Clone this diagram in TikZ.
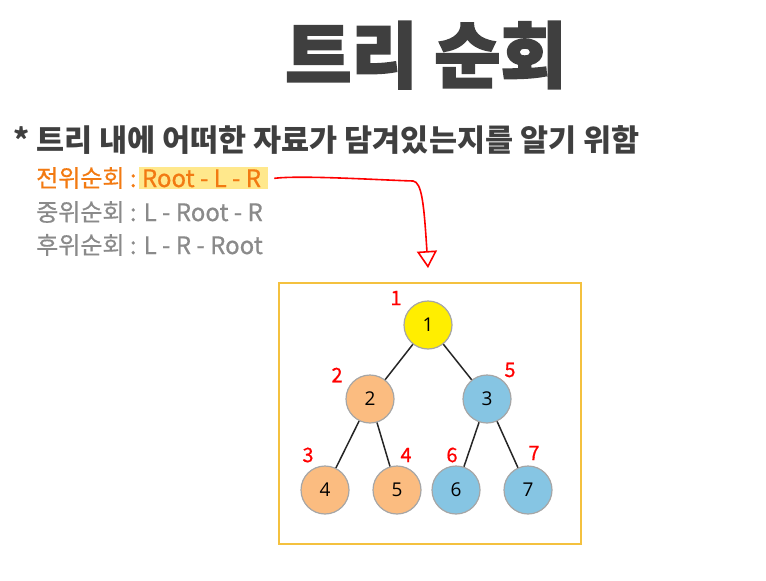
\documentclass[tikz,border=0pt]{standalone}
\usepackage{fontspec}
\setmainfont{Noto Sans CJK KR}
\newfontfamily\heavyfont[FakeBold=2.5]{Noto Sans CJK KR}
\newfontfamily\mediumfont[FakeBold=0.6]{Noto Sans CJK KR}
\newfontfamily\numfont{Open Sans}
\usetikzlibrary{
  arrows.meta,
  positioning
}
\definecolor{titlegray}{HTML}{3F3F3F}
\definecolor{textgray}{HTML}{8A8A8A}
\definecolor{preorange}{HTML}{F27A12}
\definecolor{markyellow}{HTML}{FFE88C}
\definecolor{boxgold}{HTML}{F4C13F}
\definecolor{rootyellow}{HTML}{FFEE00}
\definecolor{leftpeach}{HTML}{FBBC80}
\definecolor{rightblue}{HTML}{86C5E3}
\tikzset{
  x=1pt,
  y=-1pt,
  treenode/.style={
    circle,
    draw=gray!70,
    line width=1.2pt,
    minimum size=48pt,
    inner sep=0pt,
    font=\numfont\fontsize{19}{19}\selectfont
  },
  edge/.style={
    draw=black!85,
    line width=1.5pt
  },
  visit/.style={
    text=red,
    font=\mediumfont\fontsize{20}{20}\selectfont
  },
  order/.style={
    anchor=base west,
    inner sep=0pt,
    font=\mediumfont\fontsize{24}{24}\selectfont
  },
  redpen/.style={
    draw=red,
    line width=1.6pt,
    -{Triangle[open,length=17pt,width=20pt,line width=1.6pt]}
  }
}
\begin{document}
\begin{tikzpicture}
  \useasboundingbox (0,0) rectangle (766,581);
  \node[anchor=base, inner sep=0pt, text=titlegray, font=\heavyfont\bfseries\fontsize{72}{72}\selectfont] (title) at (426,82) {트리 순회};
  \node[anchor=base west, inner sep=0pt, text=titlegray, font=\bfseries\fontsize{30.5}{30.5}\selectfont] (goal) at (13,151) {* 트리 내에 어떠한 자료가 담겨있는지를 알기 위함};
  \node[order, text=preorange] (prelab) at (36,187) {전위순회 :};
  \node[order, text=preorange, fill=markyellow, inner xsep=3pt, inner ysep=2pt, anchor=base west] (pre) at ([xshift=2pt]prelab.base east) {Root - L - R\,};
  \node[order, text=textgray] (inlab) at (36,221) {중위순회 : L - Root - R};
  \node[order, text=textgray] (postlab) at (36,254) {후위순회 : L - R - Root};
  \coordinate (tip) at (428,268);
  \draw[redpen] ([xshift=6pt]pre.east) .. controls (300,175) and (380,180) .. (413,181) .. controls (422,182) and (424,205) .. (tip);
  \draw[boxgold, line width=2pt] (279,283) rectangle (581,544);
  \node[treenode, fill=rootyellow] (n1) at (428,325) {1};
  \node[treenode, fill=leftpeach] (n2) at (370,399) {2};
  \node[treenode, fill=rightblue] (n3) at (487,399) {3};
  \node[treenode, fill=leftpeach] (n4) at (325,490) {4};
  \node[treenode, fill=leftpeach] (n5) at (397,490) {5};
  \node[treenode, fill=rightblue] (n6) at (456,490) {6};
  \node[treenode, fill=rightblue] (n7) at (528,490) {7};
  \draw[edge] (n1) -- (n2);
  \draw[edge] (n1) -- (n3);
  \draw[edge] (n2) -- (n4);
  \draw[edge] (n2) -- (n5);
  \draw[edge] (n3) -- (n6);
  \draw[edge] (n3) -- (n7);
  \node[visit] (v1) at (396,298) {1};
  \node[visit] (v2) at (337,375) {2};
  \node[visit] (v3) at (308,455) {3};
  \node[visit] (v4) at (406,455) {4};
  \node[visit] (v5) at (510,370) {5};
  \node[visit] (v6) at (452,455) {6};
  \node[visit] (v7) at (534,453) {7};
\end{tikzpicture}
\end{document}
